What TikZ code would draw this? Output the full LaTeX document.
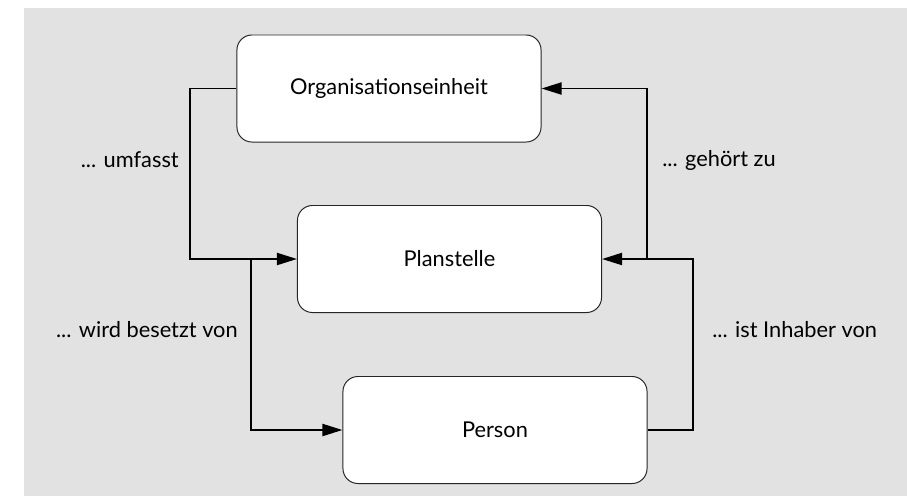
\documentclass[tikz,border=0pt]{standalone}
\usepackage{fontspec}
\setmainfont{Lato}
\usepackage{tikz}
\usetikzlibrary{arrows.meta, positioning, calc}

\definecolor{bggray}{HTML}{E2E2E2}

\begin{document}
\begin{tikzpicture}[
    x=0.025cm, y=-0.025cm,
    unit/.style={rectangle, rounded corners=0.375cm, draw=black!85, line width=0.7pt, fill=white, minimum width=7.6cm, minimum height=2.675cm, align=center, font=\fontsize{15.5}{18}\selectfont},
    conn/.style={-{Triangle[length=5mm, width=3mm]}, line width=1.4pt},
    rel/.style={font=\fontsize{15.5}{18}\selectfont, inner sep=0pt}
]

% Background
\useasboundingbox (0,0) rectangle (907,496);
\fill[bggray] (24,8) rectangle (907,496);

% Units
\node[unit] (org) at (389, 88.5) {Organisationseinheit};
\node[unit] (plan) at (449.5, 259) {Planstelle};
\node[unit] (pers) at (495, 430) {Person};

% Junctions
\coordinate (jleft) at ($(plan.west)+(-46,0)$);
\coordinate (jright) at ($(plan.east)+(45,0)$);

% Relations
\draw[conn] (org.west) -- ++(-46,0) |- (plan.west);
\draw[conn] (jleft) |- (pers.west);
\draw[conn] (pers.east) -- ++(45,0) |- (plan.east);
\draw[conn] (jright) |- (org.east);

% Labels
\node[rel, anchor=east] (lumf) at (179,160) {... umfasst};
\node[rel, anchor=west] (lgeh) at (662,160) {... gehört zu};
\node[rel, anchor=east] (lbes) at (238,330) {... wird besetzt von};
\node[rel, anchor=west] (linh) at (712,330) {... ist Inhaber von};

\end{tikzpicture}
\end{document}
